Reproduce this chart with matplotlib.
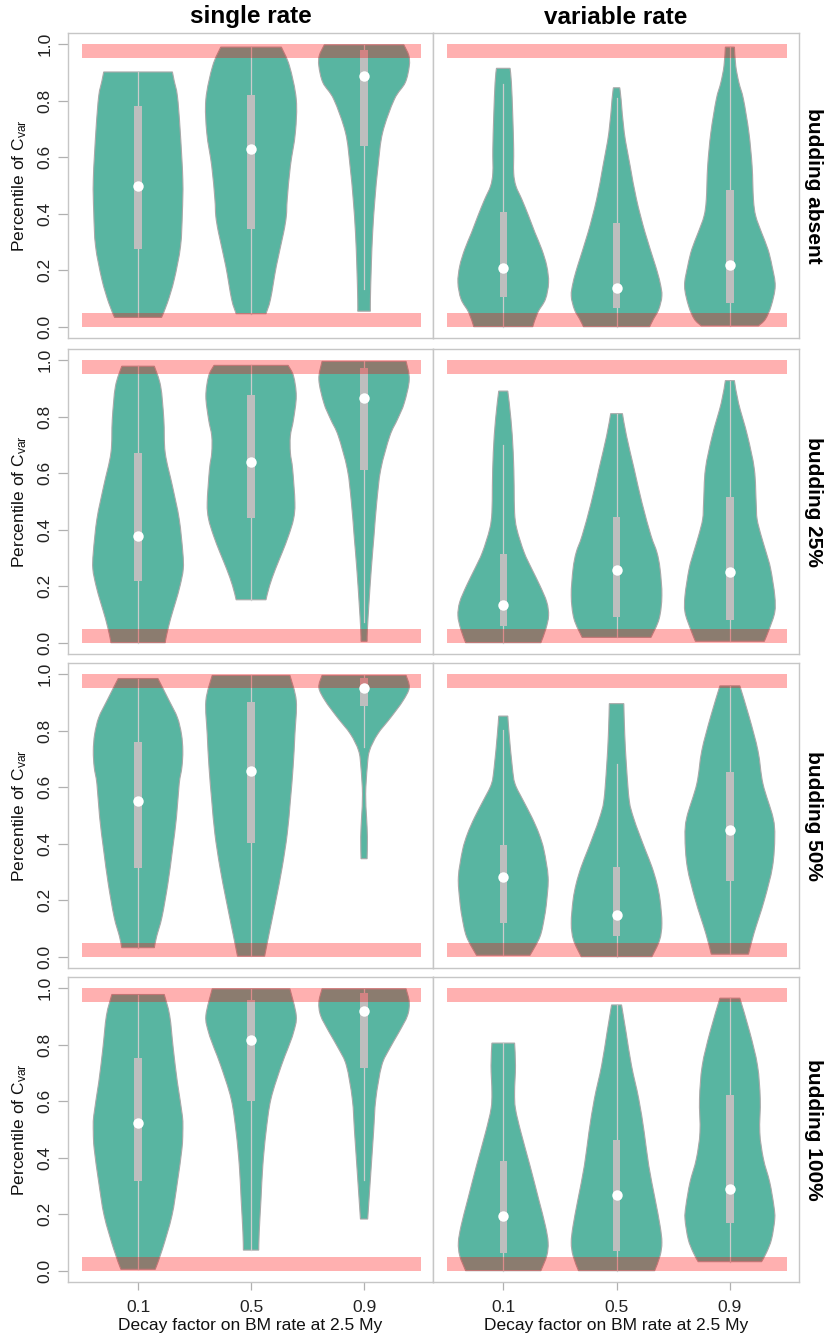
# violin plots of C_var percentiles by budding scenario and rate model
import numpy as np
import matplotlib
matplotlib.use('Agg')
import matplotlib.pyplot as plt
from matplotlib.path import Path
from matplotlib.patches import PathPatch

plt.rcParams['font.family'] = ['Liberation Sans', 'DejaVu Sans']
plt.rcParams['mathtext.fontset'] = 'custom'
plt.rcParams['mathtext.rm'] = 'Liberation Sans'
plt.rcParams['mathtext.it'] = 'Liberation Sans:italic'

rate_models = ['single rate', 'variable rate']
budding = ['budding absent', 'budding 25%', 'budding 50%', 'budding 100%']
decay = ['0.1', '0.5', '0.9']

# ---- violin outlines: y values and relative half-widths (bottom to top)
# single rate, budding absent
sa1_y = [0.033, 0.085, 0.167, 0.285, 0.404, 0.521, 0.699, 0.817, 0.87, 0.902]
sa1_w = [0.52, 0.65, 0.80, 0.94, 0.98, 0.99, 0.93, 0.87, 0.80, 0.76]
sa2_y = [0.046, 0.097, 0.215, 0.333, 0.392, 0.451, 0.569, 0.687, 0.805, 0.923, 0.99]
sa2_w = [0.33, 0.43, 0.56, 0.72, 0.78, 0.80, 0.87, 0.98, 1.0, 0.85, 0.67]
sa3_y = [0.055, 0.097, 0.215, 0.333, 0.451, 0.569, 0.687, 0.805, 0.864, 0.923, 0.96, 0.998]
sa3_w = [0.14, 0.14, 0.16, 0.19, 0.24, 0.31, 0.41, 0.67, 0.91, 1.0, 0.99, 0.88]
# variable rate, budding absent
va1_y = [0.0, 0.05, 0.097, 0.156, 0.215, 0.274, 0.333, 0.392, 0.451, 0.498, 0.545, 0.628, 0.746, 0.864, 0.915]
va1_w = [0.65, 0.76, 0.93, 1.0, 0.96, 0.85, 0.70, 0.56, 0.41, 0.28, 0.23, 0.23, 0.21, 0.18, 0.15]
va2_y = [0.0, 0.026, 0.061, 0.109, 0.156, 0.215, 0.333, 0.451, 0.569, 0.687, 0.805, 0.846]
va2_w = [0.73, 0.81, 0.93, 1.0, 0.96, 0.86, 0.63, 0.44, 0.30, 0.17, 0.10, 0.07]
va3_y = [0.003, 0.026, 0.073, 0.144, 0.215, 0.274, 0.333, 0.392, 0.451, 0.569, 0.687, 0.805, 0.864, 0.923, 0.99]
va3_w = [0.63, 0.78, 0.91, 1.0, 0.93, 0.84, 0.70, 0.57, 0.52, 0.49, 0.42, 0.30, 0.20, 0.13, 0.10]
# single rate, budding 25%
s25_1_y = [0.0, 0.026, 0.085, 0.144, 0.202, 0.261, 0.32, 0.438, 0.555, 0.673, 0.791, 0.908, 0.979]
s25_1_w = [0.60, 0.63, 0.72, 0.83, 0.93, 1.0, 0.99, 0.91, 0.76, 0.60, 0.57, 0.50, 0.36]
s25_2_y = [0.152, 0.202, 0.261, 0.32, 0.379, 0.438, 0.496, 0.614, 0.673, 0.732, 0.791, 0.873, 0.944, 0.982]
s25_2_w = [0.33, 0.41, 0.54, 0.69, 0.83, 0.94, 0.97, 0.92, 0.87, 0.87, 0.94, 1.0, 0.94, 0.82]
s25_3_y = [0.005, 0.049, 0.144, 0.261, 0.379, 0.496, 0.614, 0.732, 0.791, 0.849, 0.932, 0.996]
s25_3_w = [0.067, 0.074, 0.11, 0.16, 0.22, 0.28, 0.37, 0.57, 0.74, 0.89, 1.0, 0.93]
# variable rate, budding 25%
v25_1_y = [0.0, 0.049, 0.096, 0.144, 0.202, 0.261, 0.32, 0.402, 0.461, 0.555, 0.673, 0.791, 0.891]
v25_1_w = [0.83, 0.94, 1.0, 0.96, 0.81, 0.63, 0.46, 0.30, 0.25, 0.24, 0.22, 0.17, 0.10]
v25_2_y = [0.019, 0.085, 0.167, 0.261, 0.32, 0.379, 0.496, 0.614, 0.732, 0.811]
v25_2_w = [0.76, 0.94, 1.0, 0.96, 0.89, 0.76, 0.56, 0.39, 0.22, 0.13]
v25_3_y = [0.005, 0.049, 0.108, 0.167, 0.261, 0.32, 0.379, 0.438, 0.496, 0.614, 0.732, 0.849, 0.928]
v25_3_w = [0.76, 0.87, 0.99, 0.99, 0.90, 0.80, 0.69, 0.60, 0.58, 0.54, 0.39, 0.19, 0.10]
# single rate, budding 50%
s50_1_y = [0.032, 0.071, 0.141, 0.259, 0.376, 0.494, 0.612, 0.671, 0.729, 0.788, 0.847, 0.906, 0.985]
s50_1_w = [0.36, 0.41, 0.53, 0.66, 0.76, 0.85, 0.91, 0.97, 0.99, 0.96, 0.87, 0.69, 0.44]
s50_2_y = [0.002, 0.082, 0.2, 0.318, 0.435, 0.553, 0.671, 0.788, 0.906, 0.996]
s50_2_w = [0.30, 0.40, 0.55, 0.69, 0.80, 0.87, 0.93, 0.97, 1.0, 0.86]
s50_3_y = [0.347, 0.424, 0.494, 0.576, 0.671, 0.729, 0.788, 0.847, 0.906, 0.953, 0.996]
s50_3_w = [0.067, 0.074, 0.055, 0.035, 0.07, 0.12, 0.30, 0.59, 0.86, 1.0, 0.93]
# variable rate, budding 50%
v50_1_y = [0.005, 0.071, 0.141, 0.2, 0.282, 0.376, 0.435, 0.494, 0.553, 0.612, 0.671, 0.788, 0.852]
v50_1_w = [0.59, 0.81, 0.91, 0.96, 0.99, 0.90, 0.79, 0.63, 0.44, 0.26, 0.20, 0.13, 0.10]
v50_2_y = [0.0, 0.059, 0.118, 0.2, 0.259, 0.318, 0.376, 0.435, 0.494, 0.553, 0.671, 0.788, 0.896]
v50_2_w = [0.78, 0.95, 1.0, 0.96, 0.89, 0.78, 0.64, 0.50, 0.37, 0.28, 0.22, 0.18, 0.16]
v50_3_y = [0.009, 0.082, 0.2, 0.318, 0.424, 0.494, 0.612, 0.729, 0.847, 0.959]
v50_3_w = [0.41, 0.53, 0.76, 0.94, 0.99, 0.95, 0.73, 0.62, 0.43, 0.22]
# single rate, budding 100%
s100_1_y = [0.005, 0.077, 0.195, 0.313, 0.431, 0.49, 0.549, 0.667, 0.785, 0.903, 0.978]
s100_1_w = [0.38, 0.54, 0.75, 0.87, 0.97, 0.99, 0.98, 0.87, 0.78, 0.70, 0.58]
s100_2_y = [0.073, 0.136, 0.254, 0.372, 0.49, 0.608, 0.726, 0.785, 0.844, 0.903, 0.998]
s100_2_w = [0.17, 0.18, 0.22, 0.26, 0.33, 0.44, 0.67, 0.81, 0.94, 1.0, 0.86]
s100_3_y = [0.183, 0.254, 0.372, 0.49, 0.608, 0.726, 0.785, 0.844, 0.903, 0.95, 0.998]
s100_3_w = [0.08, 0.11, 0.16, 0.21, 0.26, 0.39, 0.56, 0.77, 0.96, 1.0, 0.93]
# variable rate, budding 100%
v100_1_y = [0.0, 0.053, 0.1, 0.159, 0.254, 0.372, 0.49, 0.573, 0.632, 0.726, 0.806]
v100_1_w = [0.83, 0.96, 0.99, 0.93, 0.78, 0.59, 0.39, 0.27, 0.25, 0.27, 0.25]
v100_2_y = [0.0, 0.053, 0.1, 0.159, 0.254, 0.372, 0.49, 0.608, 0.726, 0.844, 0.941]
v100_2_w = [0.84, 0.96, 1.0, 0.96, 0.85, 0.71, 0.61, 0.49, 0.33, 0.21, 0.11]
v100_3_y = [0.032, 0.065, 0.112, 0.183, 0.23, 0.313, 0.396, 0.49, 0.608, 0.726, 0.844, 0.965]
v100_3_w = [0.70, 0.81, 0.92, 0.99, 0.97, 0.88, 0.74, 0.66, 0.67, 0.61, 0.44, 0.22]

# ---- box statistics, rows = budding level, columns = decay factor
single_q1 = [[0.276, 0.347, 0.640], [0.218, 0.440, 0.611], [0.314, 0.404, 0.888], [0.319, 0.601, 0.717]]
single_med = [[0.500, 0.630, 0.887], [0.378, 0.640, 0.865], [0.552, 0.658, 0.951], [0.524, 0.818, 0.920]]
single_q3 = [[0.782, 0.819, 0.979], [0.671, 0.876, 0.971], [0.762, 0.902, 0.988], [0.753, 0.960, 0.982]]
single_lo = [[0.033, 0.046, 0.132], [0.000, 0.152, 0.075], [0.032, 0.002, 0.741], [0.005, 0.073, 0.321]]
single_hi = [[0.902, 0.990, 0.998], [0.979, 0.982, 0.996], [0.985, 0.996, 0.996], [0.978, 0.998, 0.998]]

variable_q1 = [[0.105, 0.067, 0.083], [0.059, 0.091, 0.081], [0.118, 0.073, 0.268], [0.063, 0.068, 0.168]]
variable_med = [[0.209, 0.138, 0.217], [0.132, 0.258, 0.249], [0.281, 0.149, 0.449], [0.195, 0.269, 0.290]]
variable_q3 = [[0.407, 0.366, 0.484], [0.314, 0.446, 0.516], [0.394, 0.318, 0.653], [0.387, 0.464, 0.623]]
variable_lo = [[0.000, 0.000, 0.003], [0.000, 0.019, 0.005], [0.005, 0.000, 0.009], [0.000, 0.000, 0.032]]
variable_hi = [[0.858, 0.811, 0.990], [0.699, 0.811, 0.928], [0.802, 0.682, 0.959], [0.806, 0.941, 0.965]]

profiles = [
    [[(sa1_y, sa1_w), (sa2_y, sa2_w), (sa3_y, sa3_w)],
     [(va1_y, va1_w), (va2_y, va2_w), (va3_y, va3_w)]],
    [[(s25_1_y, s25_1_w), (s25_2_y, s25_2_w), (s25_3_y, s25_3_w)],
     [(v25_1_y, v25_1_w), (v25_2_y, v25_2_w), (v25_3_y, v25_3_w)]],
    [[(s50_1_y, s50_1_w), (s50_2_y, s50_2_w), (s50_3_y, s50_3_w)],
     [(v50_1_y, v50_1_w), (v50_2_y, v50_2_w), (v50_3_y, v50_3_w)]],
    [[(s100_1_y, s100_1_w), (s100_2_y, s100_2_w), (s100_3_y, s100_3_w)],
     [(v100_1_y, v100_1_w), (v100_2_y, v100_2_w), (v100_3_y, v100_3_w)]],
]
boxes = [
    (single_q1, single_med, single_q3, single_lo, single_hi),
    (variable_q1, variable_med, variable_q3, variable_lo, variable_hi),
]

violin_col = '#58b5a1'
edge_col = '#a9a9a9'
box_col = '#bebebe'
frame_col = '#c6c6c6'
half_width = 0.4


def smooth_side(pts):
    # cubic catmull-rom segments through every knot
    p = np.asarray(pts, dtype=float)
    ext = np.vstack([p[0], p, p[-1]])
    verts, codes = [], []
    for i in range(1, len(ext) - 2):
        c1 = ext[i] + (ext[i + 1] - ext[i - 1]) / 6
        c2 = ext[i + 1] - (ext[i + 2] - ext[i]) / 6
        verts += [tuple(c1), tuple(c2), tuple(ext[i + 1])]
        codes += [Path.CURVE4] * 3
    return verts, codes


def violin(ax, x0, ys, ws):
    right = [(x0 + half_width * w, y) for y, w in zip(ys, ws)]
    left = [(x0 - half_width * w, y) for y, w in zip(ys, ws)][::-1]
    verts = [left[-1], right[0]]
    codes = [Path.MOVETO, Path.LINETO]
    v, c = smooth_side(right)
    verts += v; codes += c
    verts.append(left[0]); codes.append(Path.LINETO)
    v, c = smooth_side(left)
    verts += v; codes += c
    verts.append(left[-1]); codes.append(Path.CLOSEPOLY)
    ax.add_patch(PathPatch(Path(verts, codes), facecolor=violin_col,
                           edgecolor=edge_col, lw=0.8, zorder=2))


fig = plt.figure(figsize=(8.28, 13.36), dpi=100)
FW, FH = 828, 1336
col_left = [68, 433]
col_width = [365, 366]
row_top = [33, 349, 663, 977]
row_h = 305
xpos = [1, 2, 3]

for r in range(4):
    for c in range(2):
        ax = fig.add_axes([col_left[c] / FW, 1 - (row_top[r] + row_h) / FH,
                           col_width[c] / FW, row_h / FH])
        ax.set_xlim(0.38, 3.61)
        ax.set_ylim(-0.04, 1.04)
        for s in ax.spines.values():
            s.set_color(frame_col)
            s.set_linewidth(1.0)

        q1, med, q3, lo, hi = boxes[c]
        for k, x0 in enumerate(xpos):
            ys, ws = profiles[r][c][k]
            violin(ax, x0, ys, ws)
            ax.plot([x0, x0], [lo[r][k], hi[r][k]], color='#cccccc', lw=0.9, zorder=2.5)
            ax.fill_between([x0 - 0.032, x0 + 0.032], q1[r][k], q3[r][k],
                            color=box_col, lw=0, zorder=3)
            ax.plot(x0, med[r][k], 'o', color='white', ms=7.5, mec='none', zorder=5)

        # 5% tails of the reference distribution
        ax.fill_between([0.5, 3.5], 0.0, 0.05, color='red', alpha=0.31, lw=0, zorder=4)
        ax.fill_between([0.5, 3.5], 0.95, 1.0, color='red', alpha=0.31, lw=0, zorder=4)

        ax.set_yticks([0, 0.2, 0.4, 0.6, 0.8, 1.0])
        ax.set_yticklabels(['0.0', '0.2', '0.4', '0.6', '0.8', '1.0'],
                           rotation=90, va='center')
        ax.set_xticks(xpos)
        ax.set_xticklabels(decay)
        ax.tick_params(axis='y', length=7, width=0.9, color='#b0b0b0', pad=4,
                       labelsize=12.5, labelcolor='#222222',
                       left=(c == 0), labelleft=(c == 0))
        ax.tick_params(axis='x', length=6, width=0.9, color='#b0b0b0', pad=7,
                       labelsize=12.5, labelcolor='#222222',
                       bottom=(r == 3), labelbottom=(r == 3))

        if c == 0:
            fig.text(20 / FW, 1 - (row_top[r] + row_h / 2) / FH,
                     r'Percentile of C$_{\mathrm{var}}$', rotation=90,
                     ha='center', va='center', fontsize=12.5, color='#111111')
        else:
            fig.text(814 / FW, 1 - (row_top[r] + row_h / 2) / FH, budding[r],
                     rotation=270, ha='center', va='center', fontsize=15,
                     fontweight='bold')

for c in range(2):
    cx = (col_left[c] + col_width[c] / 2) / FW
    fig.text(cx, 1 - 23.5 / FH, rate_models[c], ha='center', va='baseline',
             fontsize=17.5, fontweight='bold')
    fig.text(cx, 1 - 1330 / FH, 'Decay factor on BM rate at 2.5 My',
             ha='center', va='baseline', fontsize=12.5, color='#111111')

fig.savefig('out.png', dpi=100)
